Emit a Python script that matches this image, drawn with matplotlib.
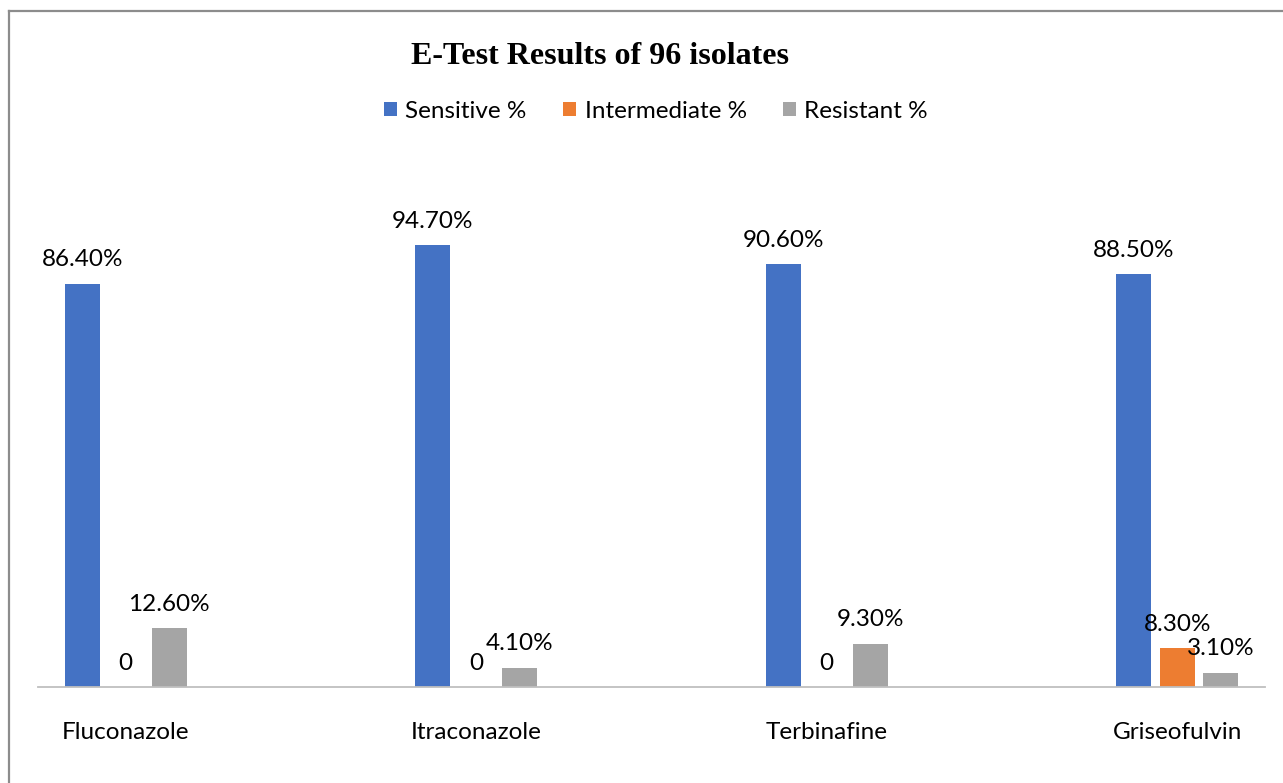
import matplotlib.pyplot as plt
from matplotlib.patches import Patch
from matplotlib.lines import Line2D

# data
drugs = ['Fluconazole', 'Itraconazole', 'Terbinafine', 'Griseofulvin']
series = ['Sensitive %', 'Intermediate %', 'Resistant %']
sensitive = [86.4, 94.7, 90.6, 88.5]
intermediate = [0, 0, 0, 8.3]
resistant = [12.6, 4.1, 9.3, 3.1]
colors = ['#4472C4', '#ED7D31', '#A5A5A5']

W, H = 1283, 783
plt.rcParams['font.family'] = ['Lato', 'DejaVu Sans']
fs = 17.5

fig = plt.figure(figsize=(W / 100, H / 100), dpi=100)
ax = fig.add_axes([38 / W, (H - 687) / H, (1265 - 38) / W, 466.5 / H])

width = 0.1
step = 0.124
values = [sensitive, intermediate, resistant]
for i, vals in enumerate(values):
    xs = [k + (i - 1) * step for k in range(len(drugs))]
    ax.bar(xs, vals, width=width, color=colors[i], zorder=2)
    for x, v in zip(xs, vals):
        if v == 0:
            lab = '0'
        else:
            lab = '%.2f%%' % v
        ax.annotate(lab, (x, v), xytext=(0, 24), textcoords='offset pixels',
                    ha='center', va='center', fontsize=fs, color='#000000')

ax.set_xlim(-0.25, 3.25)
ax.set_ylim(0, 100)
ax.set_xticks(range(len(drugs)))
ax.set_xticklabels(drugs, fontsize=fs)
ax.tick_params(axis='x', length=0, pad=25)
ax.set_yticks([])
for s in ['top', 'left', 'right']:
    ax.spines[s].set_visible(False)
ax.spines['bottom'].set_color('#bfbfbf')
ax.spines['bottom'].set_linewidth(1.3)

fig.text(600 / W, 1 - 56 / H, 'E-Test Results of 96 isolates',
         family='Liberation Serif', weight='bold', fontsize=23,
         ha='center', va='center')

handles = [Patch(facecolor=c) for c in colors]
fig.legend(handles, series, loc='center', bbox_to_anchor=(656 / W, 1 - 111 / H),
           ncol=3, frameon=False, fontsize=fs, handlelength=0.55,
           handleheight=0.55, handletextpad=0.33, columnspacing=1.5)

# border of the chart area
fig.add_artist(Line2D([9 / W, 9 / W], [0, 1 - 11 / H], color='#8c8c8c', lw=1.6))
fig.add_artist(Line2D([9 / W, 1], [1 - 11 / H, 1 - 11 / H], color='#8c8c8c', lw=1.6))

fig.savefig('out.png', dpi=100)
